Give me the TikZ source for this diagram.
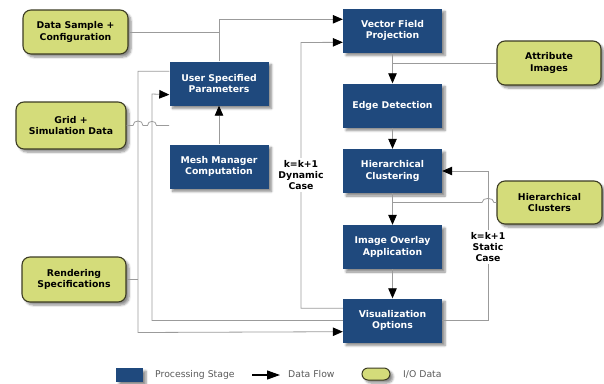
\documentclass[tikz,border=0pt]{standalone}
\usepackage{fontspec}
\setmainfont{DejaVu Sans}
\usetikzlibrary{arrows.meta,shadows.blur,calc}
\definecolor{procblue}{RGB}{31,73,125}
\definecolor{iogreen}{RGB}{212,220,122}
\definecolor{ioborder}{RGB}{60,60,35}
\definecolor{linegray}{RGB}{155,155,155}
\definecolor{legtext}{RGB}{90,90,90}
\begin{document}
\begin{tikzpicture}[x=1pt,y=-1pt,
  boxfont/.style={font=\fontsize{9.3}{11.2}\selectfont\bfseries},
  shad/.style={blur shadow={shadow xshift=3pt,shadow yshift=-3pt,shadow blur steps=6,shadow opacity=45}},
  proc/.style={boxfont,shad,fill=procblue,text=white,minimum width=99pt,minimum height=44pt,align=center,inner sep=0pt},
  io/.style={boxfont,shad,fill=iogreen,draw=ioborder,line width=1.1pt,rounded corners=8pt,text=black,minimum width=104pt,minimum height=44pt,align=center,inner sep=0pt},
  conn/.style={draw=linegray,line width=0.8pt},
  flow/.style={conn,-{Triangle[length=10pt,width=8.5pt,color=black]}},
  lbl/.style={boxfont,fill=white,align=center,inner sep=2pt,text=black},
  legt/.style={font=\fontsize{9.3}{11}\selectfont,text=legtext,anchor=west,inner sep=0pt}
]
\useasboundingbox (0,0) rectangle (604,383);

% processing stages
\node[proc] (vfp) at (392.5,30.5) {Vector Field\\Projection};
\node[proc] (usp) at (219,83.5) {User Specified\\Parameters};
\node[proc] (ed) at (392.5,105.5) {Edge Detection};
\node[proc] (hc) at (392.5,171) {Hierarchical\\Clustering};
\node[proc] (mmc) at (219,166.5) {Mesh Manager\\Computation};
\node[proc] (ioa) at (392.5,247) {Image Overlay\\Application};
\node[proc] (vo) at (392.5,320.5) {Visualization\\Options};

% I/O data
\node[io,minimum width=105pt] (ds) at (75.5,32) {Data Sample +\\Configuration};
\node[io,minimum width=110pt,minimum height=47pt] (grid) at (71,125.5) {Grid +\\Simulation Data};
\node[io] (ai) at (549,63) {Attribute\\Images};
\node[io,minimum width=105pt,minimum height=43pt] (hcl) at (549.5,202.5) {Hierarchical\\Clusters};
\node[io,minimum height=45pt] (rs) at (74,279.5) {Rendering\\Specifications};

% helper coordinates
\coordinate (vfpIn1) at ($(vfp.north west)+(0,11)$);
\coordinate (vfpIn2) at ($(vfp.north west)+(0,34)$);
\coordinate (dynA) at ($(vo.north west)+(0,10)$);
\coordinate (dynX) at (301,42.5);
\coordinate (uspL) at ($(usp.north west)+(0,10)$);
\coordinate (uspL2) at ($(usp.south west)+(0,-11)$);
\coordinate (voL2) at ($(vo.south west)+(0,-11)$);
\coordinate (c1) at (138,332.5);
\coordinate (c2) at (152,94);
\coordinate (c3) at (488,171);
\coordinate (gridE) at (169,125.5);

% connectors
\draw[flow] (usp.north) |- (vfpIn1);
\draw[conn] (ds.east) -- (ds.east -| usp.north);
\draw[flow] (dynA) -| (dynX) -- (vfpIn2);
\draw[flow] (mmc.north) -- (usp.south);
\draw[conn] (grid.east) -- (133,125.5) .. controls (133,119.5) and (143,119.5) .. (143,125.5)
  -- (147.5,125.5) .. controls (147.5,120) and (156.5,120) .. (156.5,125.5) -- (gridE);
\draw[flow] (uspL) -| (c1) -- (voL2);
\draw[conn] (rs.east) -- (rs.east -| c1);
\draw[flow] (vo.west) -| (c2) -- (uspL2);
\draw[flow] (vfp.south) -- (ed.north);
\draw[conn] (ai.west) -- (ai.west -| vfp.south);
\draw[flow] (ed.south) -- (hc.north);
\draw[flow] (hc.south) -- (ioa.north);
\draw[conn] (hcl.west) -- (494,202.5) .. controls (494,197) and (482,197) .. (482,202.5) -- (hcl.west -| hc.south);
\draw[flow] (ioa.south) -- (vo.north);
\draw[flow] (vo.east) -| (c3) -- (hc.east);

% loop labels
\node[lbl] (dyn) at (301,175) {k=k+1\\Dynamic\\Case};
\node[lbl] (stat) at (488,247) {k=k+1\\Static\\Case};

% legend
\node[shad,fill=procblue,minimum width=27pt,minimum height=14pt,inner sep=0pt] (legP) at (129.5,375) {};
\node[legt] (legPt) at (155,374.5) {Processing Stage};
\coordinate (la1) at (252,375);
\coordinate (la2) at (280,375);
\draw[black,line width=1.2pt,-{Triangle[length=13pt,width=9pt]}] (la1) -- (la2);
\node[legt] (legFt) at (288,374.5) {Data Flow};
\node[shad,fill=iogreen,draw=ioborder,line width=1pt,rounded corners=6pt,minimum width=28pt,minimum height=12pt,inner sep=0pt] (legIO) at (376,374) {};
\node[legt] (legIOt) at (403,374.5) {I/O Data};
\end{tikzpicture}
\end{document}
